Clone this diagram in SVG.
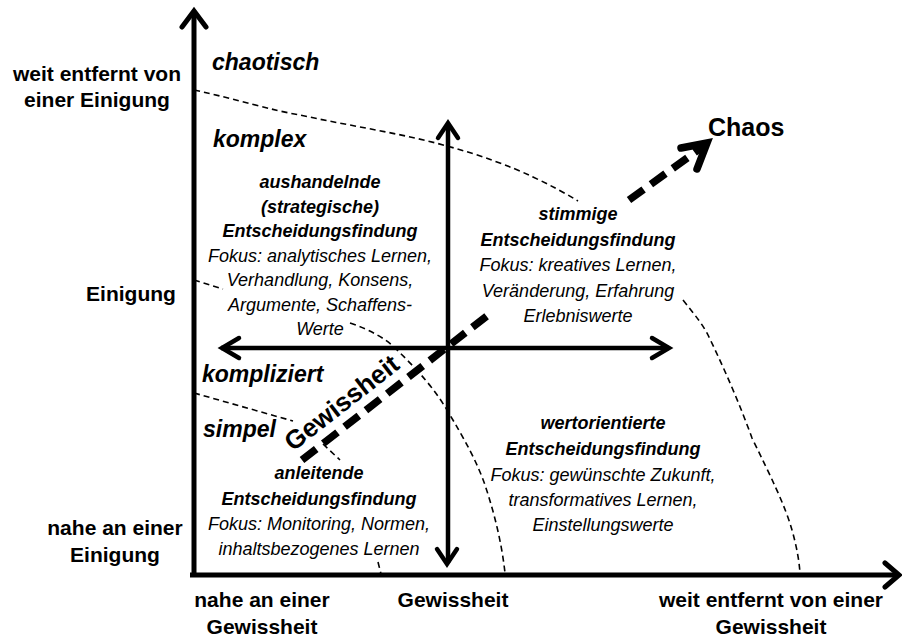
<svg xmlns="http://www.w3.org/2000/svg" width="902" height="637" viewBox="0 0 902 637">
  <style>
    text { font-family: "Liberation Sans", Arial, sans-serif; fill: #000; }
    .axis { font-size: 21px; font-weight: bold; text-anchor: middle; }
    .region { font-size: 23px; font-weight: bold; font-style: italic; }
    .title { font-size: 18px; font-weight: bold; font-style: italic; text-anchor: middle; }
    .body { font-size: 18px; font-style: italic; text-anchor: middle; }
    .bold-line { fill: none; stroke: #000; stroke-linecap: butt; }
    .head { fill: none; stroke: #000; stroke-linecap: round; stroke-linejoin: miter; }
    .thin-dash { fill: none; stroke: #000; stroke-width: 1.6; stroke-dasharray: 6 4; }
    .thick-dash { fill: none; stroke: #000; stroke-width: 7.5; stroke-dasharray: 18 9; }
  </style>

  <!-- Main axes and central cross -->
  <g id="connectors">
    <!-- vertical axis: agreement -->
    <line class="bold-line" x1="194" y1="577" x2="194" y2="12" stroke-width="5"/>
    <polyline class="head" points="182,27 194,11 206,27" stroke-width="5"/>
    <!-- horizontal axis: certainty -->
    <line class="bold-line" x1="190" y1="575" x2="897" y2="575" stroke-width="5"/>
    <polyline class="head" points="885,563 899,575 885,587" stroke-width="5"/>

    <!-- central vertical double arrow -->
    <line class="bold-line" x1="448" y1="124" x2="448" y2="563" stroke-width="4.5"/>
    <polyline class="head" points="438,138 448,123 458,138" stroke-width="4.5"/>
    <polyline class="head" points="437,549 447,564 457,549" stroke-width="4.5"/>
    <!-- central horizontal double arrow -->
    <line class="bold-line" x1="221" y1="348" x2="669" y2="348" stroke-width="4.5"/>
    <polyline class="head" points="239,338 222,348 239,358" stroke-width="4.5"/>
    <polyline class="head" points="652,338 669,348 652,358" stroke-width="4.5"/>

    <!-- diagonal towards chaos -->
    <line class="thick-dash" x1="302" y1="460" x2="492" y2="312"/>
    <line class="thick-dash" x1="629" y1="200" x2="701" y2="148"/>
    <polyline class="head" points="681,148 707,143 697,169" stroke-width="7.5"/>

    <!-- region boundaries -->
    <path class="thin-dash" d="M194,90 C240,100 270,110 300,115 C350,126 400,133 447,146 C480,155 510,166 533,177 C550,185 565,193 578,201"/>
    <path class="thin-dash" d="M194,280 L223,289"/>
    <path class="thin-dash" d="M350,323 C370,330 385,338 395,348 C420,372 435,390 447,410 C465,440 477,462 485,485 C495,515 502,545 505,573"/>
    <path class="thin-dash" d="M683,300 C695,315 703,325 708,335 C725,370 740,405 752,438 C770,475 785,505 792,530 C797,548 799,560 800,573"/>
    <path class="thin-dash" d="M194,393 L293,421"/>
    <path class="thin-dash" d="M323,444 L340,460"/>
    <path class="thin-dash" d="M378,562 L381,574"/>
  </g>

  <!-- Axis labels -->
  <g id="axis-labels">
    <text class="axis" x="97" y="81">weit entfernt von</text>
    <text class="axis" x="97" y="107">einer Einigung</text>
    <text class="axis" x="131" y="301">Einigung</text>
    <text class="axis" x="115" y="535">nahe an einer</text>
    <text class="axis" x="115" y="562">Einigung</text>
    <text class="axis" x="262" y="607">nahe an einer</text>
    <text class="axis" x="262" y="634">Gewissheit</text>
    <text class="axis" x="453" y="607">Gewissheit</text>
    <text class="axis" x="771" y="607">weit entfernt von einer</text>
    <text class="axis" x="771" y="634">Gewissheit</text>
  </g>

  <!-- Region names -->
  <g id="regions">
    <text class="region" x="212" y="70">chaotisch</text>
    <text class="region" x="213" y="147">komplex</text>
    <text class="region" x="202" y="382">kompliziert</text>
    <text class="region" x="203" y="437">simpel</text>
  </g>

  <!-- Diagonal labels -->
  <g id="diagonal-labels">
    <text x="708" y="136" style="font-size:25px;font-weight:bold">Chaos</text>
    <text transform="translate(293,452) rotate(-38)" style="font-size:26px;font-weight:bold">Gewissheit</text>
  </g>

  <!-- Quadrant: negotiating decision making -->
  <g id="node-aushandelnde">
    <text class="title" x="320" y="188">aushandelnde</text>
    <text class="title" x="320" y="212.5">(strategische)</text>
    <text class="title" x="320" y="237">Entscheidungsfindung</text>
    <text class="body" x="320" y="261.5">Fokus: analytisches Lernen,</text>
    <text class="body" x="320" y="286">Verhandlung, Konsens,</text>
    <text class="body" x="320" y="310.5">Argumente, Schaffens-</text>
    <text class="body" x="320" y="335">Werte</text>
  </g>

  <!-- Quadrant: coherent decision making -->
  <g id="node-stimmige">
    <text class="title" x="578" y="220">stimmige</text>
    <text class="title" x="578" y="245.5">Entscheidungsfindung</text>
    <text class="body" x="578" y="271">Fokus: kreatives Lernen,</text>
    <text class="body" x="578" y="296.5">Veränderung, Erfahrung</text>
    <text class="body" x="578" y="322">Erlebniswerte</text>
  </g>

  <!-- Quadrant: guiding decision making -->
  <g id="node-anleitende">
    <text class="title" x="319" y="479">anleitende</text>
    <text class="title" x="319" y="504.5">Entscheidungsfindung</text>
    <text class="body" x="319" y="530">Fokus: Monitoring, Normen,</text>
    <text class="body" x="319" y="555">inhaltsbezogenes Lernen</text>
  </g>

  <!-- Quadrant: value-oriented decision making -->
  <g id="node-wertorientierte">
    <text class="title" x="603" y="429">wertorientierte</text>
    <text class="title" x="603" y="455">Entscheidungsfindung</text>
    <text class="body" x="603" y="481">Fokus: gewünschte Zukunft,</text>
    <text class="body" x="603" y="506">transformatives Lernen,</text>
    <text class="body" x="603" y="531">Einstellungswerte</text>
  </g>
</svg>
